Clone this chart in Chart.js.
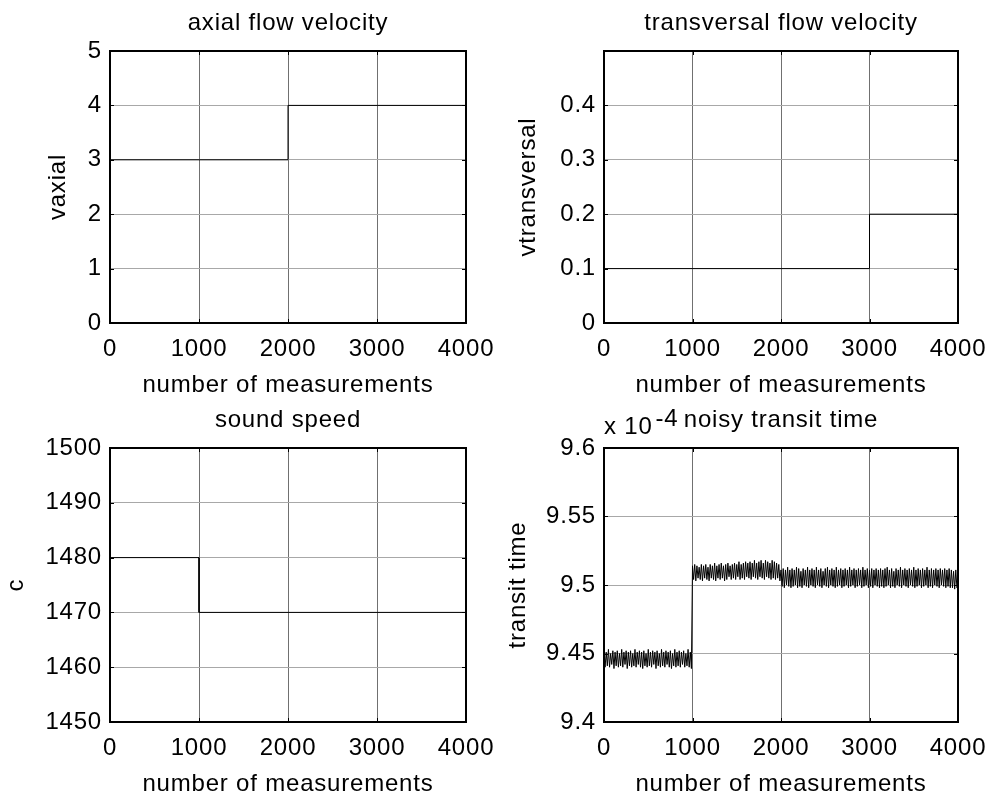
<!DOCTYPE html>
<html>
<head>
<meta charset="utf-8">
<script src="https://cdn.jsdelivr.net/npm/chart.js@4.4.1/dist/chart.umd.min.js"></script>
<style>
  html, body { margin: 0; background: #fff; overflow: hidden; }
  #fig { position: relative; width: 989px; height: 792px; }
  #fig canvas { position: absolute; left: 0; top: 0; }
</style>
</head>
<body>
<div id="fig">
  <canvas id="axial" width="989" height="792"></canvas>
  <canvas id="transversal" width="989" height="792"></canvas>
  <canvas id="sound" width="989" height="792"></canvas>
  <canvas id="transit" width="989" height="792"></canvas>
</div>
<script>
// ---- data ----
const xTicks = [0, 1000, 2000, 3000, 4000];

const axialX = [0, 2000, 2000, 4000];
const axialY = [3, 3, 4, 4];
const axialTicks = [0, 1, 2, 3, 4, 5];

const transversalX = [0, 3000, 3000, 4000];
const transversalY = [0.1, 0.1, 0.2, 0.2];
const transversalTicks = [0, 0.1, 0.2, 0.3, 0.4];

const soundX = [0, 1000, 1000, 4000];
const soundY = [1480, 1480, 1470, 1470];
const soundTicks = [1450, 1460, 1470, 1480, 1490, 1500];

// transit time (x 1e-4), one reading every 12.5 measurements
const transitStep = 12.5;
const transitTime = [
  // 0 - 987.5
  9.452, 9.440, 9.451, 9.441, 9.453, 9.440, 9.450, 9.442, 9.452, 9.439,
  9.451, 9.441, 9.452, 9.440, 9.450, 9.441, 9.453, 9.440, 9.451, 9.442,
  9.452, 9.439, 9.451, 9.441, 9.452, 9.440, 9.450, 9.441, 9.453, 9.440,
  9.451, 9.442, 9.452, 9.440, 9.451, 9.439, 9.452, 9.441, 9.450, 9.440,
  9.453, 9.441, 9.451, 9.440, 9.452, 9.442, 9.451, 9.439, 9.452, 9.441,
  9.450, 9.440, 9.453, 9.441, 9.451, 9.440, 9.452, 9.442, 9.451, 9.440,
  9.452, 9.439, 9.450, 9.441, 9.453, 9.440, 9.451, 9.441, 9.452, 9.440,
  9.451, 9.442, 9.452, 9.440, 9.450, 9.441, 9.453, 9.440, 9.451, 9.439,
  // 1000 - 1987.5
  9.514, 9.504, 9.515, 9.503, 9.514, 9.505, 9.513, 9.504, 9.515, 9.503,
  9.514, 9.505, 9.515, 9.504, 9.513, 9.503, 9.515, 9.505, 9.514, 9.504,
  9.516, 9.503, 9.514, 9.505, 9.515, 9.504, 9.516, 9.505, 9.514, 9.503,
  9.515, 9.504, 9.516, 9.506, 9.514, 9.504, 9.515, 9.505, 9.516, 9.504,
  9.515, 9.506, 9.517, 9.504, 9.515, 9.505, 9.516, 9.504, 9.517, 9.506,
  9.516, 9.505, 9.517, 9.504, 9.516, 9.506, 9.518, 9.505, 9.516, 9.504,
  9.517, 9.506, 9.518, 9.505, 9.516, 9.504, 9.518, 9.506, 9.517, 9.505,
  9.516, 9.504, 9.518, 9.505, 9.517, 9.504, 9.516, 9.505, 9.515, 9.503,
  // 2000 - 4000
  9.511, 9.499, 9.512, 9.498, 9.511, 9.500, 9.513, 9.499, 9.511, 9.498,
  9.512, 9.499, 9.511, 9.500, 9.513, 9.498, 9.512, 9.499, 9.510, 9.498,
  9.512, 9.500, 9.511, 9.499, 9.513, 9.498, 9.511, 9.500, 9.512, 9.499,
  9.511, 9.498, 9.513, 9.500, 9.511, 9.499, 9.512, 9.498, 9.510, 9.500,
  9.512, 9.499, 9.513, 9.498, 9.511, 9.500, 9.512, 9.499, 9.511, 9.498,
  9.513, 9.499, 9.511, 9.500, 9.512, 9.498, 9.511, 9.499, 9.512, 9.500,
  9.511, 9.498, 9.513, 9.499, 9.511, 9.500, 9.512, 9.498, 9.511, 9.499,
  9.512, 9.500, 9.511, 9.498, 9.513, 9.499, 9.511, 9.500, 9.512, 9.498,
  9.511, 9.499, 9.512, 9.498, 9.511, 9.500, 9.512, 9.499, 9.511, 9.498,
  9.512, 9.499, 9.511, 9.498, 9.512, 9.499, 9.513, 9.500, 9.511, 9.498,
  9.512, 9.499, 9.510, 9.498, 9.512, 9.500, 9.511, 9.499, 9.513, 9.498,
  9.511, 9.500, 9.512, 9.499, 9.511, 9.498, 9.512, 9.500, 9.511, 9.499,
  9.513, 9.498, 9.511, 9.499, 9.512, 9.500, 9.511, 9.498, 9.512, 9.499,
  9.511, 9.500, 9.513, 9.498, 9.511, 9.499, 9.512, 9.498, 9.511, 9.500,
  9.512, 9.499, 9.511, 9.498, 9.512, 9.500, 9.511, 9.499, 9.512, 9.498,
  9.511, 9.499, 9.512, 9.498, 9.511, 9.498, 9.510, 9.497, 9.511, 9.498,
  9.500
];
const transitTicks = [9.4, 9.45, 9.5, 9.55, 9.6];

// ---- look ----
const FAMILY = "'Liberation Sans', Arial, sans-serif";
const FONT_SIZE = 24;
const SPACING = '0.8px';
const TICK_LEN = 4;
const Y_AXIS_W = 100;
const X_AXIS_H = 45;
const W = 989, H = 792;

// box, inward ticks and labels the way the original plot has them
const matlabAxes = {
  id: 'matlabAxes',
  beforeDraw(chart) {
    chart.ctx.letterSpacing = SPACING;
  },
  afterDraw(chart, args, opts) {
    const { ctx, chartArea: a, scales: { x, y } } = chart;
    const left = Math.round(a.left), top = Math.round(a.top);
    const right = Math.round(a.right), bottom = Math.round(a.bottom);
    ctx.save();
    ctx.strokeStyle = '#000';
    ctx.lineWidth = 1;
    ctx.beginPath();
    x.ticks.forEach(t => {
      const px = Math.round(x.getPixelForValue(t.value)) + 0.5;
      ctx.moveTo(px, bottom); ctx.lineTo(px, bottom - TICK_LEN);
      ctx.moveTo(px, top); ctx.lineTo(px, top + TICK_LEN);
    });
    y.ticks.forEach(t => {
      const py = Math.round(y.getPixelForValue(t.value)) + 0.5;
      ctx.moveTo(left, py); ctx.lineTo(left + TICK_LEN, py);
      ctx.moveTo(right, py); ctx.lineTo(right - TICK_LEN, py);
    });
    ctx.stroke();
    ctx.lineWidth = 2;
    ctx.strokeRect(left, top, right - left, bottom - top);

    ctx.fillStyle = '#000';
    ctx.font = FONT_SIZE + 'px ' + FAMILY;
    ctx.letterSpacing = SPACING;
    ctx.textBaseline = 'alphabetic';
    ctx.textAlign = 'center';
    ctx.fillText(opts.title, (left + right) / 2, top - 21);
    ctx.fillText(opts.xlabel, (left + right) / 2, bottom + 69);

    if (opts.exponent) {
      ctx.textAlign = 'left';
      const base = 'x 10';
      ctx.fillText(base, left, top - 14);
      ctx.fillText(opts.exponent, left + ctx.measureText(base).width + 3, top - 22);
    }

    ctx.translate(opts.ylabelX, (top + bottom) / 2);
    ctx.rotate(-Math.PI / 2);
    ctx.textAlign = 'center';
    ctx.fillText(opts.ylabel, 0, 0);
    ctx.restore();
  }
};

function points(xs, ys) {
  return xs.map((v, i) => ({ x: v, y: ys[i] }));
}

// keep the plot box where the layout padding puts it
function noLabelPadding(s) {
  s.paddingLeft = 0;
  s.paddingRight = 0;
  s.paddingTop = 0;
  s.paddingBottom = 0;
}

function makePanel(id, box, data, yMin, yMax, yTicks, labels) {
  const tickFont = { family: FAMILY, size: FONT_SIZE };
  return new Chart(document.getElementById(id), {
    type: 'line',
    data: {
      datasets: [{
        data: data,
        borderColor: '#000',
        borderWidth: 1,
        pointRadius: 0,
        fill: false,
        tension: 0
      }]
    },
    options: {
      responsive: false,
      animation: false,
      devicePixelRatio: 1,
      layout: {
        padding: {
          left: box.left - Y_AXIS_W,
          top: box.top,
          right: W - box.right,
          bottom: H - box.bottom - X_AXIS_H
        }
      },
      plugins: {
        legend: { display: false },
        title: { display: false },
        tooltip: { enabled: false },
        matlabAxes: labels
      },
      scales: {
        x: {
          type: 'linear',
          min: 0,
          max: 4000,
          afterBuildTicks: s => { s.ticks = xTicks.map(v => ({ value: v })); },
          afterFit: s => { s.height = X_AXIS_H; noLabelPadding(s); },
          ticks: {
            autoSkip: false,
            maxRotation: 0,
            padding: 12,
            color: '#000',
            font: tickFont,
            callback: v => String(v)
          },
          grid: { color: '#707070', lineWidth: 1, drawTicks: false },
          border: { display: false }
        },
        y: {
          type: 'linear',
          min: yMin,
          max: yMax,
          afterBuildTicks: s => { s.ticks = yTicks.map(v => ({ value: v })); },
          afterFit: s => { s.width = Y_AXIS_W; noLabelPadding(s); },
          ticks: {
            autoSkip: false,
            padding: 8,
            color: '#000',
            font: tickFont,
            callback: v => String(v)
          },
          grid: { color: '#a8a8a8', lineWidth: 1, drawTicks: false },
          border: { display: false }
        }
      }
    },
    plugins: [matlabAxes]
  });
}

makePanel('axial', { left: 110, top: 51, right: 466, bottom: 323 },
  points(axialX, axialY), 0, 5, axialTicks,
  { title: 'axial flow velocity', xlabel: 'number of measurements', ylabel: 'vaxial', ylabelX: 65 });

makePanel('transversal', { left: 604, top: 51, right: 958, bottom: 323 },
  points(transversalX, transversalY), 0, 0.5, transversalTicks,
  { title: 'transversal flow velocity', xlabel: 'number of measurements', ylabel: 'vtransversal', ylabelX: 535 });

makePanel('sound', { left: 110, top: 448, right: 466, bottom: 722 },
  points(soundX, soundY), 1450, 1500, soundTicks,
  { title: 'sound speed', xlabel: 'number of measurements', ylabel: 'c', ylabelX: 23 });

makePanel('transit', { left: 604, top: 448, right: 958, bottom: 722 },
  transitTime.map((v, i) => ({ x: i * transitStep, y: v })), 9.4, 9.6, transitTicks,
  { title: 'noisy transit time', xlabel: 'number of measurements', ylabel: 'transit time', ylabelX: 525, exponent: '-4' });
</script>
</body>
</html>
